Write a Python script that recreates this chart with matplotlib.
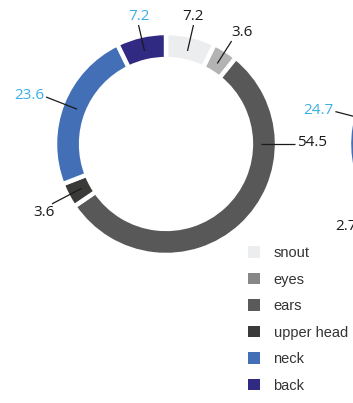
import matplotlib
matplotlib.use("Agg")
import matplotlib.pyplot as plt
from matplotlib.patches import Patch
import numpy as np

parts = ["snout", "eyes", "ears", "upper head", "neck", "back"]
share_left = [7.2, 3.6, 54.5, 3.6, 23.6, 7.2]
share_right = [7.0, 2.7, 54.3, 2.7, 24.7, 8.6]

ring_colors = ["#ECEDEF", "#B3B3B3", "#585858", "#3A3A38", "#426FB6", "#302A82"]
key_colors = ["#ECEDEF", "#878787", "#5A5A5A", "#3A3A3A", "#426FB6", "#302A82"]
text_colors = ["#1A1A1A"] * 4 + ["#3AAEE6"] * 2

NUM_FONT = "Open Sans"


def donut(ax, values, shown=None, anchor_override=None):
    wedges, _ = ax.pie(values, colors=ring_colors, startangle=90,
                       counterclock=False, radius=1,
                       wedgeprops=dict(width=0.235, edgecolor="white", linewidth=3.2))
    ax.set_xlim(-1, 1)
    ax.set_ylim(-1, 1)
    ax.set_aspect("equal")
    ax.axis("off")
    anchor_override = anchor_override or {}
    for i, w in enumerate(wedges):
        if shown is not None and i not in shown:
            continue
        ang = anchor_override.get(i, (w.theta1 + w.theta2) / 2)
        t = np.deg2rad(ang)
        dx, dy = np.cos(t), np.sin(t)
        r0, r1 = 0.86, 1.1
        side = abs(dx) > abs(dy)
        if side:
            r1 = 1.16
        x1, y1 = r1 * dx, r1 * dy
        ax.plot([r0 * dx, x1], [r0 * dy, y1], color="#1A1A1A", lw=0.9,
                clip_on=False, solid_capstyle="butt")
        if side:
            ha = "left" if dx > 0 else "right"
            va = "center"
            off = (1.5 if dx > 0 else -1.5, 1)
            if dy < -0.3:
                va, off = "top", (2, -1)
        else:
            ha = "center" if abs(dx) < 0.4 else ("left" if dx > 0 else "right")
            va = "bottom" if dy > 0 else "top"
            off = (0, 1)
        ax.annotate(f"{values[i]:.1f}", xy=(x1, y1), xytext=off,
                    textcoords="offset points", ha=ha, va=va,
                    fontsize=11, family=NUM_FONT, color=text_colors[i],
                    annotation_clip=False)


fig = plt.figure(figsize=(3.53, 4.03), dpi=100)

W, H = 353, 403
R = 111
cx, cy = 166, 144
ax1 = fig.add_axes([(cx - R) / W, 1 - (cy + R) / H, 2 * R / W, 2 * R / H])
donut(ax1, share_left, anchor_override={2: 0.0})

# second ring sits mostly past the right edge
cx2 = 460
ax2 = fig.add_axes([(cx2 - R) / W, 1 - (cy + R) / H, 2 * R / W, 2 * R / H])
donut(ax2, share_right, shown=[3, 4])

handles = [Patch(facecolor=c, edgecolor="none") for c in key_colors]
fig.legend(handles, parts, loc="upper left", bbox_to_anchor=(248 / W, 1 - 246 / H),
           frameon=False, prop={"family": "Liberation Sans", "size": 10.5},
           labelcolor="#333333", handlelength=0.85, handleheight=0.85,
           handletextpad=0.9, labelspacing=0.86, borderpad=0, borderaxespad=0)

fig.savefig("out.png", dpi=100)
